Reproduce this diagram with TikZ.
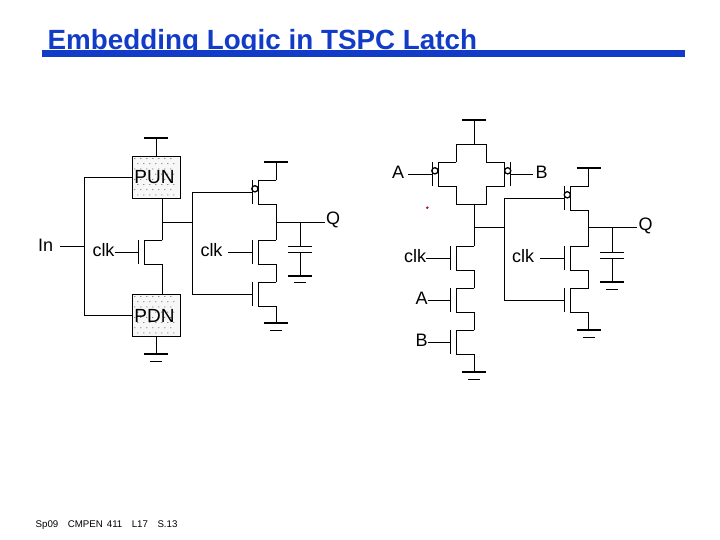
\documentclass[tikz,border=0pt]{standalone}
\usepackage{fontspec}
\setmainfont{Liberation Sans}
\definecolor{titleblue}{RGB}{18,60,200}
\definecolor{dotred}{RGB}{170,20,50}
\tikzset{wire/.style={line width=1pt},
  rail/.style={line width=2.2pt},
  bubble/.style={circle,draw,line width=1.3pt,inner sep=0pt,minimum size=6.2pt},
  lab/.style={inner sep=0pt,font=\fontsize{18}{18}\selectfont},
  boxlab/.style={inner sep=0pt,font=\fontsize{19}{19}\selectfont},
  netbox/.style={draw,line width=1pt,fill=black!3,minimum width=48pt,minimum height=42.3pt,inner sep=0pt}}
% channel at #2, #3=1 faces left, #3=-1 faces right
\newcommand{\fet}[3]{
\begin{scope}[shift={#2},xscale=#3]
\draw[wire] (-6,0) -- (-6,24);
\draw[wire] (18,0) coordinate (#1d) -- (0,0) -- (0,24) -- (18,24) coordinate (#1s);
\coordinate (#1g) at (-6,12);
\coordinate (#1b) at (-3.4,8.5);
\end{scope}}
\newcommand{\gatebubble}[1]{\node[bubble] (#1c) at (#1b) {};}
\newcommand{\supply}[1]{\draw[rail] ([xshift=-12]#1) -- ([xshift=12]#1);}
\newcommand{\ground}[1]{\supply{#1}
\draw[wire] ([shift={(-6,7)}]#1) -- ([shift={(6,7)}]#1);}
\newcommand{\stipple}[1]{
\foreach \row in {0,...,7}{
\foreach \col in {0,...,6}{
\pgfmathsetmacro{\dotx}{3+6*\col+3*mod(\row,2)}
\pgfmathsetmacro{\doty}{3+5.2*\row}
\fill[black!85] ([shift={(\dotx,\doty)}]#1.north west) circle (.5);
}}}
\begin{document}
\begin{tikzpicture}[x=1pt,y=-1pt]
\useasboundingbox (0,0) rectangle (720,540);
\node[anchor=base west,inner sep=0pt,text=titleblue,font=\fontsize{27.8}{27.8}\selectfont\bfseries] (title) at (47.5,50) {Embedding Logic in TSPC Latch};
\fill[titleblue] (42,50.5) rectangle (685,57);
\node[anchor=west,inner sep=0pt,font=\fontsize{9.7}{9.7}\selectfont] (foot) at (35.5,525) {Sp09\hspace{9.5pt}CMPEN\hspace{4pt}411\hspace{9.5pt}L17\hspace{9.5pt}S.13};
% left latch
\node[netbox] (PUN) at (156.3,177.2) {};
\node[netbox] (PDN) at (156.3,315.2) {};
\stipple{PUN}
\stipple{PDN}
\node[boxlab] at (154.5,177.2) {PUN};
\node[boxlab] at (154.5,316) {PDN};
\coordinate (vddA) at (156.3,137.7);
\coordinate (gndA) at (156.3,354.3);
\supply{vddA}
\ground{gndA}
\draw[wire] (vddA) -- (PUN.north);
\draw[wire] (PDN.south) -- (gndA);
\node[lab] (In) at (45.7,245) {In};
\coordinate (inA) at (60,246.7);
\coordinate (busA) at (84.3,246.7);
\draw[wire] (inA) -- (busA);
\draw[wire] (PUN.west) -| (busA) |- (PDN.west);
\fet{mA}{(144.3,240.3)}{1}
\node[lab] (clkA) at (103.5,250) {clk};
\draw[wire] (clkA.east |- mAg) -- (mAg);
\draw[wire] (mAd) -- (mAd |- PUN.south);
\draw[wire] (mAs) -- (mAs |- PDN.north);
\fet{pB}{(258.3,180.3)}{1}
\fet{nB}{(258.3,240.3)}{1}
\fet{mB}{(258.3,282.3)}{1}
\gatebubble{pB}
\coordinate (nodeA) at (162.3,222.7);
\coordinate (busB) at (192.3,222.7);
\draw[wire] (nodeA) -- (busB);
\draw[wire] (pBg -| pBc.south west) -| (busB) |- (mBg);
\draw[wire] (pBd) -- ++(0,-18.3) coordinate (vddB);
\supply{vddB}
\draw[wire] (pBs) -- (nBd);
\draw[wire] (nBs) -- (mBd);
\coordinate (gndB) at (276.3,323.3);
\draw[wire] (mBs) -- (gndB);
\ground{gndB}
\node[lab] (clkB) at (211.5,250) {clk};
\coordinate (clkBw) at (228,252.3);
\draw[wire] (clkBw) -- (nBg);
\coordinate (outB) at (276.3,222.3);
\node[lab] (QB) at (333,219.5) {Q};
\coordinate (QBw) at (325,222.3);
\draw[wire] (outB) -- (QBw);
\coordinate (capB) at (300.3,222.3);
\coordinate (capBa) at (300.3,246.7);
\coordinate (capBb) at (300.3,252.3);
\coordinate (gndC) at (300.3,275.7);
\draw[wire] (capB) -- (capBa);
\draw[wire] (capBb) -- (gndC);
\draw[wire] ([xshift=-12]capBa) -- ([xshift=12]capBa);
\draw[wire] ([xshift=-12]capBb) -- ([xshift=12]capBb);
\ground{gndC}
% right latch
\coordinate (vddD) at (474.3,120);
\coordinate (topD) at (474.3,144.3);
\coordinate (botD) at (474.3,204.3);
\supply{vddD}
\draw[wire] (vddD) -- (topD);
\fet{pA}{(438.3,162.3)}{1}
\fet{pC}{(504.3,162.3)}{-1}
\gatebubble{pA}
\gatebubble{pC}
\draw[wire] (pAd) |- (topD) -| (pCd);
\draw[wire] (pAs) |- (botD) -| (pCs);
\node[lab] (Atop) at (398,172) {A};
\coordinate (Atopw) at (408,174.3);
\draw[wire] (Atopw) -- (pAg -| pAc.south west);
\node[lab] (Btop) at (541.5,172) {B};
\coordinate (Btopw) at (533,174.3);
\draw[wire] (Btopw) -- (pCg -| pCc.south east);
\fet{mD}{(456.3,246)}{1}
\fet{mE}{(456.3,288.3)}{1}
\fet{mF}{(456.3,330.3)}{1}
\draw[wire] (botD) -- (mDd);
\draw[wire] (mDs) -- (mEd);
\draw[wire] (mEs) -- (mFd);
\coordinate (gndD) at (474.3,372);
\draw[wire] (mFs) -- (gndD);
\ground{gndD}
\node[lab] (clkD) at (415,256) {clk};
\node[lab] (Amid) at (421.5,298) {A};
\node[lab] (Bmid) at (421.5,340) {B};
\draw[wire] (clkD.east |- mDg) -- (mDg);
\draw[wire] (Amid.east |- mEg) -- (mEg);
\draw[wire] (Bmid.east |- mFg) -- (mFg);
\fet{pG}{(570.7,186.3)}{1}
\fet{nG}{(570.7,246)}{1}
\fet{mG}{(570.7,288.3)}{1}
\gatebubble{pG}
\coordinate (nodeD) at (474.3,228);
\coordinate (busD) at (504.3,228);
\draw[wire] (nodeD) -- (busD);
\draw[wire] (pGg -| pGc.south west) -| (busD) |- (mGg);
\draw[wire] (pGd) -- ++(0,-18.3) coordinate (vddG);
\supply{vddG}
\draw[wire] (pGs) -- (nGd);
\draw[wire] (nGs) -- (mGd);
\coordinate (gndG) at (588.7,330);
\draw[wire] (mGs) -- (gndG);
\ground{gndG}
\node[lab] (clkG) at (523,256) {clk};
\coordinate (clkGw) at (540,258);
\draw[wire] (clkGw) -- (nGg);
\coordinate (outG) at (588.7,228);
\node[lab] (QG) at (645.5,226) {Q};
\coordinate (QGw) at (636.7,228);
\draw[wire] (outG) -- (QGw);
\coordinate (capG) at (612.3,228);
\coordinate (capGa) at (612.3,252);
\coordinate (capGb) at (612.3,258);
\coordinate (gndH) at (612.3,282);
\draw[wire] (capG) -- (capGa);
\draw[wire] (capGb) -- (gndH);
\draw[wire] ([xshift=-12]capGa) -- ([xshift=12]capGa);
\draw[wire] ([xshift=-12]capGb) -- ([xshift=12]capGb);
\ground{gndH}
\fill[dotred] (427.3,207.7) circle (1.4);
\end{tikzpicture}
\end{document}
